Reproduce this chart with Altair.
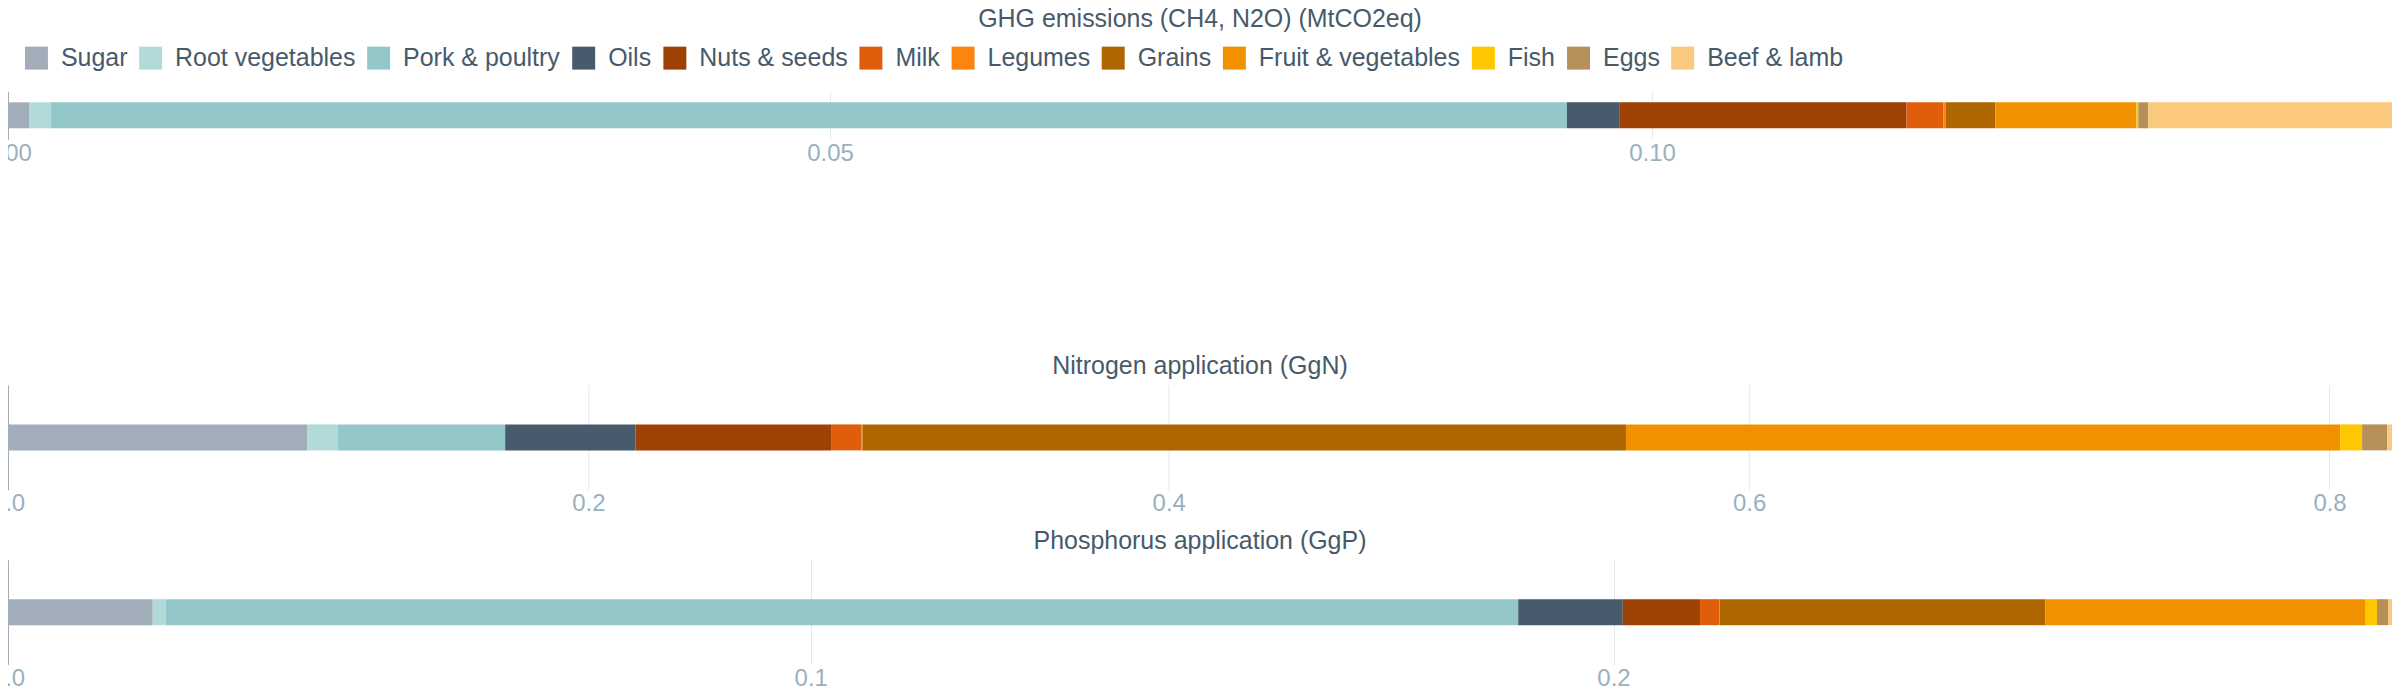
import altair as alt
import pandas as pd

categories = ["Sugar", "Root vegetables", "Pork & poultry", "Oils", "Nuts & seeds", "Milk",
              "Legumes", "Grains", "Fruit & vegetables", "Fish", "Eggs", "Beef & lamb"]
colors = ["#a1adb9", "#b2dad8", "#94c8c8", "#475b6c", "#9e4104", "#e05d0c",
          "#fd840f", "#ae6700", "#f29100", "#fec700", "#b68f59", "#fbc97d"]

ghg_values = [0.00128, 0.00134, 0.0922, 0.00322, 0.01744, 0.00225,
              0.00012, 0.00304, 0.00857, 0.00012, 0.00061, 0.01482]
nitrogen_values = [0.1032, 0.01032, 0.0578, 0.0449, 0.0674, 0.01053,
                   0.0003, 0.2631, 0.2461, 0.00757, 0.0086, 0.0017]
phosphorus_values = [0.01803, 0.00162, 0.16848, 0.01303, 0.00961, 0.00238,
                     0.0001, 0.04053, 0.03984, 0.00149, 0.00137, 0.0005]

titles = ["GHG emissions (CH4, N2O) (MtCO2eq)", "Nitrogen application (GgN)",
          "Phosphorus application (GgP)"]
ghg_ticks = [0, 0.05, 0.10]
nitrogen_ticks = [0, 0.2, 0.4, 0.6, 0.8]
phosphorus_ticks = [0, 0.1, 0.2]

TEXT = "#475a6b"
LABEL = "#9ab0bf"
GRID = "#e4e9ee"
DOMAIN = "#a3adb7"
W = 2387


def frame(metric, values):
    return pd.DataFrame({
        "metric": metric,
        "category": categories,
        "value": values,
        "idx": list(range(len(categories))),
    })


legend = alt.Legend(
    orient="none", legendX=16, legendY=-46, direction="horizontal", columns=12,
    title=None, symbolType="square", symbolSize=529, symbolStrokeWidth=0,
    labelFontSize=25, labelColor=TEXT, labelOffset=12, columnPadding=10.3,
    padding=0, labelLimit=400, symbolOpacity=1,
)


def panel(df, title, ticks, fmt, height, offset):
    return alt.Chart(df).mark_bar(size=26).encode(
        x=alt.X("value:Q", stack="zero",
                scale=alt.Scale(nice=False, zero=True),
                axis=alt.Axis(values=ticks, format=fmt, title=None, domain=False,
                              ticks=False, grid=True, gridColor=GRID, gridWidth=1,
                              labelColor=LABEL, labelFontSize=24, labelPadding=2,
                              labelFlush=False)),
        y=alt.Y("metric:N", title=None,
                axis=alt.Axis(labels=False, ticks=False, domain=True,
                              domainColor=DOMAIN, domainWidth=1, grid=False)),
        color=alt.Color("category:N", sort=categories,
                        scale=alt.Scale(domain=categories, range=colors), legend=legend),
        order=alt.Order("idx:Q"),
    ).properties(
        width=W, height=height,
        title=alt.TitleParams(title, offset=offset, baseline="alphabetic", frame="group",
                              anchor="middle", fontSize=25, fontWeight="normal", color=TEXT),
    )


ghg = panel(frame("GHG", ghg_values), titles[0], ghg_ticks, ".2f", 48, 39)
spacer = alt.Chart(pd.DataFrame({"s": [0]})).mark_point(opacity=0).properties(width=W, height=106)
nit = panel(frame("N", nitrogen_values), titles[1], nitrogen_ticks, ".1f", 105, -14)
pho = panel(frame("P", phosphorus_values), titles[2], phosphorus_ticks, ".1f", 105, -14)

chart = alt.vconcat(ghg, spacer, nit, pho, spacing=70, bounds="flush").resolve_scale(
    x="independent", y="independent", color="shared"
).properties(
    autosize=alt.AutoSizeParams(type="none"),
    padding={"left": 0, "top": 83, "right": 0, "bottom": 609},
).configure(font="Liberation Sans").configure_view(stroke=None)

chart.save("out.html", embed_options={"renderer": "svg", "actions": False})
